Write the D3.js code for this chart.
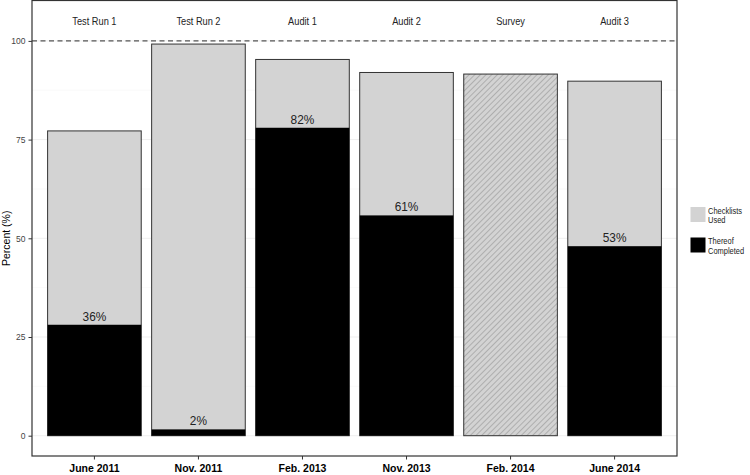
<!DOCTYPE html>
<html><head><meta charset="utf-8">
<script src="https://cdn.jsdelivr.net/npm/d3@7"></script>
<style>body{margin:0;background:#fff}svg{display:block;font-family:"Liberation Sans",Arial,sans-serif}</style>
</head><body><svg id="c" width="750" height="475"></svg>
<script>
const dates = ["June 2011","Nov. 2011","Feb. 2013","Nov. 2013","Feb. 2014","June 2014"];
const phases = ["Test Run 1","Test Run 2","Audit 1","Audit 2","Survey","Audit 3"];
const used = [77.2, 99.2, 95.3, 92.0, 91.6, 89.8];
const completed = [28.1, 1.6, 78.0, 55.8, null, 48.0];
const pctLabels = ["36%","2%","82%","61%",null,"53%"];
const hatched = [false,false,false,false,true,false];
const yTicks = [0,25,50,75,100];
const yMinor = [12.5,37.5,62.5,87.5];
const legendItems = [["Checklists","Used"],["Thereof","Completed"]];

const svg = d3.select("#c");
const P = {l:32, r:677, t:0.5, b:456};
const x = d3.scaleBand().domain(dates).range([P.l, P.r]).paddingInner(0.1).paddingOuter(0.15);
const y = d3.scaleLinear().domain([0,100]).range([435.7, 40.9]);

const defs = svg.append("defs");
const pat = defs.append("pattern").attr("id","hatch").attr("patternUnits","userSpaceOnUse")
  .attr("width",4).attr("height",4).attr("patternTransform","rotate(45)");
pat.append("rect").attr("width",4).attr("height",4).attr("fill","#d3d3d3");
pat.append("line").attr("x1",0).attr("y1",0).attr("x2",0).attr("y2",4).attr("stroke","#8a8a8a").attr("stroke-width",1);

// grid
svg.append("g").selectAll("line").data(yMinor).join("line")
  .attr("x1",P.l).attr("x2",P.r).attr("y1",d=>y(d)).attr("y2",d=>y(d))
  .attr("stroke","#f6f6f6").attr("stroke-width",0.6);
svg.append("g").selectAll("line").data(yTicks).join("line")
  .attr("x1",P.l).attr("x2",P.r).attr("y1",d=>y(d)).attr("y2",d=>y(d))
  .attr("stroke","#efefef").attr("stroke-width",1);

const data = dates.map((d,i)=>({d, used:used[i], comp:completed[i], lab:pctLabels[i], hatch:hatched[i], phase:phases[i]}));
svg.append("g").selectAll("rect").data(data).join("rect")
  .attr("x",d=>x(d.d)).attr("width",x.bandwidth())
  .attr("y",d=>y(d.used)).attr("height",d=>y(0)-y(d.used))
  .attr("fill",d=>d.hatch?"url(#hatch)":"#d3d3d3").attr("stroke","#333").attr("stroke-width",1);
svg.append("g").selectAll("rect").data(data.filter(d=>d.comp!=null)).join("rect")
  .attr("x",d=>x(d.d)).attr("width",x.bandwidth())
  .attr("y",d=>y(d.comp)).attr("height",d=>y(0)-y(d.comp))
  .attr("fill","#000");
svg.append("g").selectAll("text").data(data.filter(d=>d.lab)).join("text")
  .attr("transform",d=>`translate(${x(d.d)+x.bandwidth()/2},${y(d.comp)-4}) scale(0.95,1)`)
  .attr("text-anchor","middle").attr("font-size",12.5).attr("fill","#222").text(d=>d.lab);

// reference line
svg.append("line").attr("x1",P.l).attr("x2",P.r).attr("y1",y(100)).attr("y2",y(100))
  .attr("stroke","#555").attr("stroke-width",1.1).attr("stroke-dasharray","5,3.5");

// phase labels
svg.append("g").selectAll("text").data(data).join("text")
  .attr("transform",d=>`translate(${x(d.d)+x.bandwidth()/2},25) scale(0.88,1)`)
  .attr("text-anchor","middle").attr("font-size",10.5).attr("fill","#222").text(d=>d.phase);

// panel border
svg.append("rect").attr("x",P.l).attr("y",P.t).attr("width",P.r-P.l).attr("height",P.b-P.t)
  .attr("fill","none").attr("stroke","#333").attr("stroke-width",1.2);

// axes
const xa = svg.append("g").attr("transform",`translate(0,${P.b})`)
  .call(d3.axisBottom(x).tickSize(3.5).tickPadding(5));
xa.select(".domain").remove();
xa.selectAll("line").attr("stroke","#333");
xa.selectAll("text").attr("font-size",10.5).attr("font-weight","bold").attr("fill","#000")
  .attr("font-family","Liberation Sans, Arial, sans-serif");

const ya = svg.append("g").attr("transform",`translate(${P.l},0)`)
  .call(d3.axisLeft(y).tickValues(yTicks).tickSize(3.5).tickPadding(3));
ya.select(".domain").remove();
ya.selectAll("line").attr("stroke","#333");
ya.selectAll("text").attr("font-size",8.5).attr("fill","#444")
  .attr("font-family","Liberation Sans, Arial, sans-serif");

svg.append("text").attr("transform",`translate(9.5,${y(50)}) rotate(-90)`)
  .attr("text-anchor","middle").attr("font-size",10.5).attr("fill","#000").text("Percent (%)");

// legend
const lg = svg.append("g").selectAll("g").data(legendItems).join("g")
  .attr("transform",(d,i)=>`translate(690.5,${207+i*30.5})`);
lg.append("rect").attr("width",15).attr("height",15).attr("fill",(d,i)=>i===0?"#d3d3d3":"#000");
lg.append("text").attr("transform","translate(17.5,6.5) scale(0.88,1)").attr("font-size",8.5).attr("fill","#222").text(d=>d[0]);
lg.append("text").attr("transform","translate(17.5,16) scale(0.88,1)").attr("font-size",8.5).attr("fill","#222").text(d=>d[1]);
</script></body></html>
